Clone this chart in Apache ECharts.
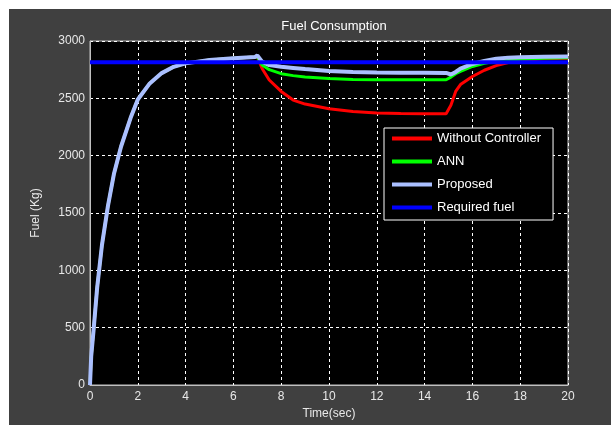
<!DOCTYPE html>
<html>
<head>
<meta charset="utf-8">
<script src="https://cdn.jsdelivr.net/npm/echarts@6/dist/echarts.min.js"></script>
<style>
  html, body { margin: 0; padding: 0; background: #ffffff; }
  #panel { position: absolute; left: 9px; top: 9px; width: 602px; height: 416px; background: #404040; }
  #fuelChart { position: absolute; left: 0; top: 0; width: 611px; height: 425px; }
</style>
</head>
<body>
<div id="panel"></div>
<div id="fuelChart"></div>
<script>
// time (sec)
const time = [0, 0.05, 0.15, 0.3, 0.5, 0.75, 1, 1.3, 1.7, 2, 2.5, 3, 3.5, 4, 5, 6, 6.9, 7,
  7.2, 7.5, 8, 8.5, 9, 10, 11, 12, 13, 14, 14.9, 15.1, 15.3, 15.5, 16, 16.5, 17, 17.5, 18, 19, 20];

// fuel (Kg)
const withoutController = [0, 250, 480, 850, 1220, 1560, 1840, 2080, 2330, 2490, 2630, 2720, 2775, 2805, 2835, 2850, 2860, 2862,
  2760, 2660, 2560, 2485, 2450, 2410, 2385, 2372, 2368, 2366, 2366, 2440, 2560, 2620, 2690, 2745, 2785, 2812, 2830, 2845, 2850];
const ann = [0, 250, 480, 850, 1220, 1560, 1840, 2080, 2330, 2490, 2630, 2720, 2775, 2805, 2835, 2850, 2860, 2862,
  2790, 2750, 2715, 2698, 2686, 2672, 2665, 2662, 2662, 2662, 2662, 2685, 2715, 2735, 2778, 2805, 2825, 2835, 2840, 2850, 2855];
const proposed = [0, 250, 480, 850, 1220, 1560, 1840, 2080, 2330, 2490, 2630, 2720, 2775, 2805, 2835, 2850, 2860, 2875,
  2820, 2790, 2775, 2765, 2755, 2738, 2730, 2726, 2724, 2724, 2722, 2708, 2730, 2760, 2800, 2825, 2845, 2855, 2858, 2863, 2865];
const requiredTime = [0, 20];
const requiredFuel = [2815, 2815];

const seriesNames = ['Without Controller', 'ANN', 'Proposed', 'Required fuel'];

function pairs(xs, ys) {
  return xs.map((x, i) => [x, ys[i]]);
}

const labelColor = '#e8e8e8';
const font = 'Liberation Sans';

let option = {
  animation: false,
  title: {
    text: 'Fuel Consumption',
    left: 329,
    top: 15,
    textAlign: 'center',
    textStyle: { color: '#ffffff', fontSize: 13, fontWeight: 'normal', fontFamily: font }
  },
  grid: {
    left: 90, top: 41, width: 478, height: 344,
    show: true,
    backgroundColor: '#000000',
    borderColor: '#c0c0c0',
    borderWidth: 1
  },
  legend: {
    data: seriesNames,
    orient: 'vertical',
    left: 384,
    top: 128,
    padding: [4, 12, 6, 8],
    itemWidth: 40,
    itemHeight: 4,
    itemGap: 10,
    icon: 'rect',
    backgroundColor: '#000000',
    borderColor: '#ffffff',
    borderWidth: 1,
    textStyle: { color: '#ffffff', fontSize: 13, fontFamily: font }
  },
  xAxis: {
    type: 'value',
    min: 0, max: 20, interval: 2,
    name: 'Time(sec)',
    nameLocation: 'middle',
    nameGap: 23,
    nameTextStyle: { color: labelColor, fontSize: 12, fontFamily: font },
    axisLine: { show: true, lineStyle: { color: '#c0c0c0' } },
    axisTick: { show: false },
    axisLabel: { color: labelColor, fontSize: 12, fontFamily: font, margin: 6 },
    splitLine: { show: true, lineStyle: { color: '#ffffff', type: [3, 3], width: 1 } }
  },
  yAxis: {
    type: 'value',
    min: 0, max: 3000, interval: 500,
    name: 'Fuel (Kg)',
    nameLocation: 'middle',
    nameGap: 48,
    nameTextStyle: { color: labelColor, fontSize: 12, fontFamily: font },
    axisLine: { show: true, lineStyle: { color: '#c0c0c0' } },
    axisTick: { show: false },
    axisLabel: {
      color: labelColor, fontSize: 12, fontFamily: font, margin: 5,
      formatter: function (value) { return String(value); }
    },
    splitLine: { show: true, lineStyle: { color: '#ffffff', type: [3, 3], width: 1 } }
  },
  series: [
    {
      name: seriesNames[0], type: 'line', symbol: 'none',
      data: pairs(time, withoutController),
      itemStyle: { color: '#ff0000' },
      lineStyle: { color: '#ff0000', width: 3 }
    },
    {
      name: seriesNames[1], type: 'line', symbol: 'none',
      data: pairs(time, ann),
      itemStyle: { color: '#00ff00' },
      lineStyle: { color: '#00ff00', width: 3 }
    },
    {
      name: seriesNames[2], type: 'line', symbol: 'none',
      data: pairs(time, proposed),
      itemStyle: { color: '#aabfff' },
      lineStyle: { color: '#aabfff', width: 4 }
    },
    {
      name: seriesNames[3], type: 'line', symbol: 'none',
      data: pairs(requiredTime, requiredFuel),
      itemStyle: { color: '#0000ff' },
      lineStyle: { color: '#0000ff', width: 4 }
    }
  ]
};

let fuelChart = echarts.init(document.getElementById('fuelChart'), null, { width: 611, height: 425 });
fuelChart.setOption(option);
</script>
</body>
</html>
